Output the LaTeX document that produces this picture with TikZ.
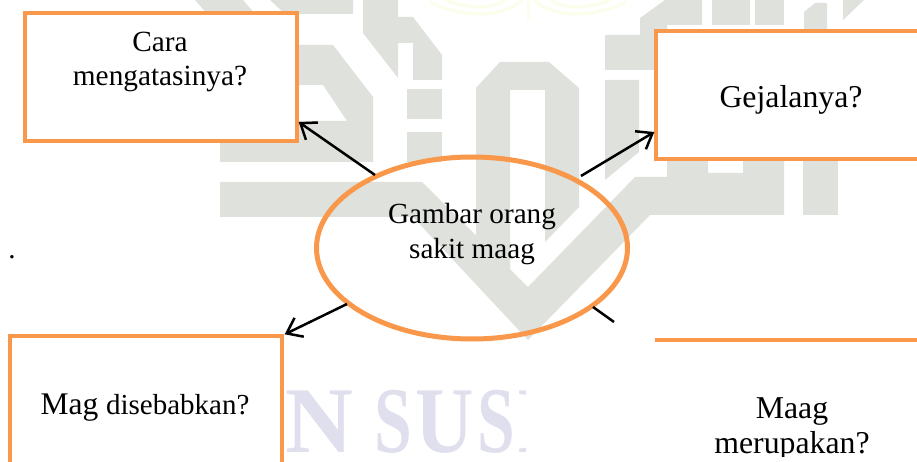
\documentclass[tikz,border=0pt]{standalone}
\usepackage{fontspec}
\setmainfont{Liberation Serif}
\usetikzlibrary{arrows.meta,shapes.geometric}
\definecolor{wmgrey}{HTML}{DFE1DC}
\definecolor{wmblue}{HTML}{DFDFEE}
\definecolor{wmyellow}{HTML}{FDFDEC}
\definecolor{orangeline}{HTML}{F9984A}
\tikzset{
  wm/.style={fill=wmgrey,draw=none},
  qbox/.style={rectangle,draw=orangeline,line width=3.4pt,fill=white,inner sep=0pt},
  lbl/.style={align=center,anchor=base,inner sep=0pt,text=black},
  conn/.style={draw=black,line width=2.5pt,-{Straight Barb[length=14pt,width=21pt,line width=2.5pt]}},
  plainconn/.style={draw=black,line width=2.5pt}
}
\begin{document}
\begin{tikzpicture}[x=1pt,y=-1pt]
\useasboundingbox (0,0) rectangle (917,462);
\fill[white] (0,0) rectangle (917,462);
% pale crest at the top
\draw[wmyellow,line width=3pt] (528,0) -- (528,20);
\draw[wmyellow,line width=3pt] (430,2) .. controls (460,18) and (505,18) .. (522,0);
\draw[wmyellow,line width=3pt] (626,2) .. controls (596,18) and (551,18) .. (534,0);
\draw[wmyellow,line width=3pt] (445,0) .. controls (470,10) and (495,8) .. (505,0);
\draw[wmyellow,line width=3pt] (611,0) .. controls (586,10) and (561,8) .. (551,0);
% watermark shapes
\fill[wm] (195,0) -- (243,0) -- (255,14) -- (207,14) -- cycle;
\fill[wm] (270,0) -- (353,0) -- (353,14) -- (285,14) -- cycle;
\fill[wm,even odd rule] (298,45) -- (333,45) -- (373,97) -- (373,162) -- (220,162) -- (220,130) -- (298,130) -- cycle
  (298,85) -- (323,85) -- (347,121) -- (298,121) -- cycle;
\fill[wm] (363,0) -- (398,0) -- (398,17) -- (413,17) -- (442,55) -- (442,80) -- (413,80) -- (413,43) -- (398,43) -- (398,78) -- (363,33) -- cycle;
\fill[wm] (407,89) rectangle (442,119);
\fill[wm] (407,132) rectangle (442,162);
% band, V and right arm
\fill[wm] (220,182) -- (422,182) -- (528,287) -- (635,177) -- (667,177) -- (667,150) -- (708,150) -- (708,173) -- (743,173) -- (743,150) -- (784,150) -- (784,215) -- (650,215) -- (528,340) -- (413,217) -- (220,217) -- cycle;
% the zero shape
\fill[wm] (476,88) -- (500,62) -- (549,62) -- (579,88) -- (579,207) -- (545,242) -- (545,90) -- (510,90) -- (510,272) -- (476,238) -- cycle;
% right hand columns and top shapes
\fill[wm] (605,35) -- (640,35) -- (640,18) -- (665,0) -- (702,0) -- (702,25) -- (667,25) -- (667,40) -- (660,40) -- (660,70) -- (605,70) -- cycle;
\fill[wm] (605,80) -- (639,80) -- (639,152) -- (605,180) -- cycle;
\fill[wm] (712,0) rectangle (750,25);
\fill[wm] (755,0) rectangle (784,25);
\fill[wm] (804,40) -- (804,12) -- (815,3) -- (827,3) -- (827,40) -- cycle;
\fill[wm] (843,0) -- (864,0) -- (843,20) -- cycle;
\fill[wm] (803,150) rectangle (838,215);
% blue watermark text
\begin{scope}
\clip (283,360) rectangle (525,462);
\node[anchor=base west,inner sep=0pt,text=wmblue,font=\fontsize{94}{94}\selectfont\bfseries] (wmtext) at (249,452) {I\kern0ptN\hspace{20.9pt}\scalebox{.72}[1]{S}\kern3.7pt\scalebox{.86}[1]{U}\kern3.2pt\scalebox{.72}[1]{S}\kern1pt I};
\end{scope}
% boxes
\node[qbox,minimum width=272pt,minimum height=128pt] (box1) at (161,77) {};
\node[qbox,minimum width=304pt,minimum height=128pt] (box2) at (808,95) {};
\node[qbox,minimum width=272pt,minimum height=170pt] (box3) at (146,421) {};
\coordinate (box4a) at (655,340);
\coordinate (box4b) at (925,340);
\draw[orangeline,line width=3.4pt] (box4a) -- (box4b);
% centre ellipse
\node[ellipse,draw=orangeline,line width=5pt,minimum width=311pt,minimum height=182pt,inner sep=0pt] (centre) at (472,248) {};
% connectors
\draw[conn] ([xshift=-97pt,yshift=73pt]centre.center) -- ([yshift=-45pt]box1.east);
\draw[conn] ([xshift=109pt,yshift=72pt]centre.center) -- ([yshift=-37pt]box2.west);
\draw[conn] ([xshift=-125pt,yshift=-56pt]centre.center) -- ([xshift=1pt]box3.north east);
\coordinate (stub) at (614,322);
\draw[plainconn] ([xshift=121pt,yshift=-59pt]centre.center) -- (stub);
% labels
\node[lbl,font=\fontsize{29.3}{34}\selectfont] (t1) at (160,86) {Cara\\mengatasinya?};
\node[lbl,font=\fontsize{31.8}{36}\selectfont] (t2) at (791,108) {Gejalanya?};
\node[lbl,font=\fontsize{29.2}{35}\selectfont] (t3) at (472,258) {Gambar orang\\sakit maag};
\node[lbl] (t4) at (145,414) {\fontsize{31.5}{36}\selectfont Mag \fontsize{29}{36}\selectfont disebabkan?};
\begin{scope}
\clip (700,385) rectangle (900,456);
\node[lbl,font=\fontsize{31.8}{35}\selectfont] (t5) at (792,453) {Maag\\merupakan?};
\end{scope}
\node[lbl,font=\fontsize{29}{34}\selectfont] (t6) at (12,258) {.};
\end{tikzpicture}
\end{document}
